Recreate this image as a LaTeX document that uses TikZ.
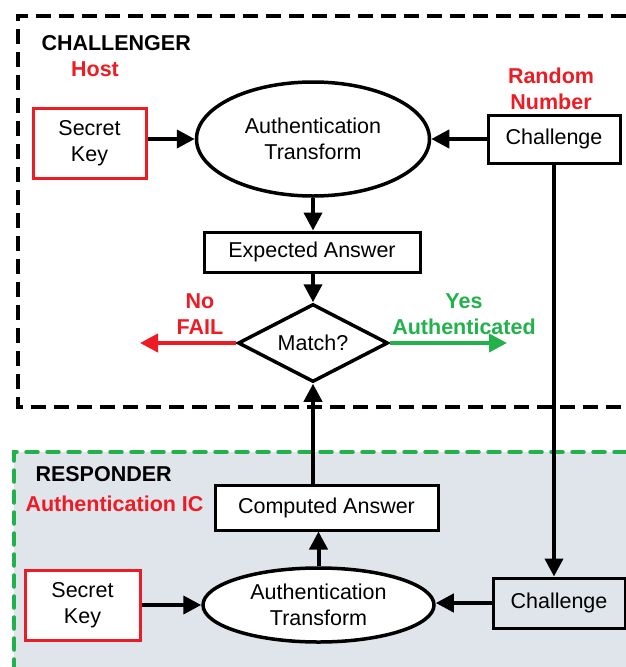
\documentclass[tikz,border=0pt]{standalone}
\usepackage{fontspec}
\setmainfont{Liberation Sans}
\usetikzlibrary{arrows.meta,shapes.geometric}
\definecolor{myred}{HTML}{ED1C24}
\definecolor{mygreen}{HTML}{22B24C}
\definecolor{bggray}{HTML}{DFE5EB}
\tikzset{
  txt/.style={font=\fontsize{21.5}{26}\selectfont, align=center},
  btxt/.style={font=\fontsize{21.5}{26}\selectfont\bfseries, align=center},
  box/.style={txt, draw=black, line width=3pt, fill=white, inner sep=0pt},
  keybox/.style={txt, draw=myred, line width=3pt, fill=white, inner sep=0pt, minimum width=113pt, minimum height=70pt},
  oval/.style={txt, ellipse, draw=black, line width=3.5pt, fill=white, inner sep=0pt},
  conn/.style={line width=4pt, -{Triangle[length=18pt,width=18pt]}},
}
\begin{document}
\begin{tikzpicture}[x=1pt,y=-1pt]
\useasboundingbox (0,0) rectangle (626,667);
% challenger region
\draw[line width=4pt, dash pattern=on 15pt off 8pt] (626,16) -- (18,16) -- (18,407) -- (626,407);
% responder region
\fill[bggray] (14,452) rectangle (626,667);
\draw[mygreen, line width=3.5pt, dash pattern=on 12pt off 9pt, line cap=round] (626,452) -- (14,452) -- (14,667);

\node[btxt, anchor=west] (chl) at (38,43) {CHALLENGER};
\node[btxt, text=myred] (host) at (95,69) {Host};
\node[btxt, text=myred] (rnd) at (551,89) {Random\\Number};

\node[keybox] (sk1) at (89.5,143) {Secret\\Key};
\node[oval, minimum width=233pt, minimum height=114pt] (at1) at (313,139) {Authentication\\Transform};
\node[box, minimum width=132pt, minimum height=48pt] (ch1) at (554,139) {Challenge};
\node[box, minimum width=216pt, minimum height=40pt] (ea) at (312,252) {Expected Answer};
\node[txt, diamond, aspect=1.9, draw=black, line width=3.5pt, fill=white, inner sep=0pt, minimum width=150pt, minimum height=78pt] (dia) at (313,343) {Match?};

\node[btxt, text=myred] (no) at (200,314) {No\\FAIL};
\node[btxt, text=mygreen] (yes) at (464,314) {Yes\\Authenticated};
\coordinate (failend) at (140,343);
\coordinate (okend) at (507,343);

\node[btxt, anchor=west] (rsp) at (32,474) {RESPONDER};
\node[btxt, text=myred, anchor=west] (aic) at (22,504) {Authentication IC};

\node[box, minimum width=223pt, minimum height=45pt] (ca) at (326.5,507.5) {Computed Answer};
\node[keybox, minimum width=115pt] (sk2) at (82.5,605) {Secret\\Key};
\node[oval, minimum width=231pt, minimum height=74pt] (at2) at (318.5,605) {Authentication\\Transform};
\node[box, minimum width=132pt, minimum height=50pt, fill=bggray] (ch2) at (559,603) {Challenge};

% connectors
\draw[conn] (sk1.east |- at1.west) -- (at1.west);
\draw[conn] (ch1.west) -- (at1.east);
\draw[conn] (at1.south) -- (ea.north -| at1.south);
\draw[conn] (ea.south -| dia.north) -- (dia.north);
\draw[conn, myred] (dia.west) -- (failend);
\draw[conn, mygreen] (dia.east) -- (okend);
\draw[conn] (ch1.south) -- (ch1.south |- ch2.north);
\draw[conn] (ca.north -| dia.south) -- (dia.south);
\draw[conn] (at2.north) -- (at2.north |- ca.south);
\draw[conn] (sk2.east) -- (at2.west);
\draw[conn] (ch2.west) -- (at2.east |- ch2.west);
\end{tikzpicture}
\end{document}
